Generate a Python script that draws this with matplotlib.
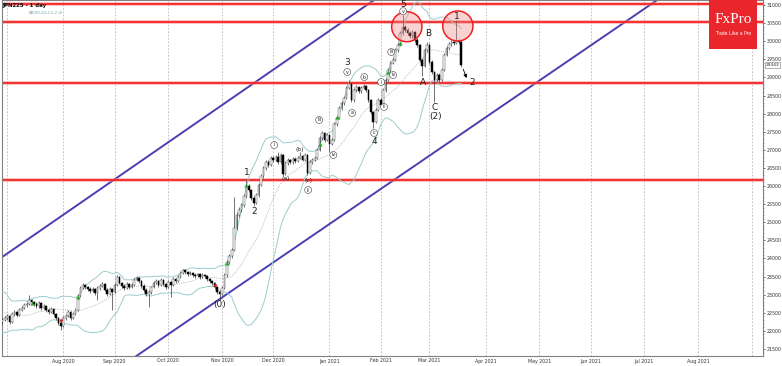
import numpy as np
import pandas as pd
import matplotlib
matplotlib.use('Agg')
import matplotlib.pyplot as plt
from matplotlib.patches import Ellipse, Rectangle
import matplotlib.transforms as mtransforms

# JPN225 daily bars from 29 Jun 2020
start_date = '2020-06-29'

opens = [
    22250, 22300, 22355, 22410, 22245, 22465, 22520, 22440, 22575, 22630,
    22715, 22740, 22850, 22795, 22740, 22685, 22770, 22630, 22685, 22575,
    22520, 22605, 22465, 22355, 22215, 22135, 22355, 22410, 22520, 22355,
    22465, 22575, 22965, 23185, 23265, 23210, 23155, 23100, 23155, 23045,
    23185, 23240, 23295, 23130, 23020, 23155, 23075, 23265, 23485, 23320,
    23240, 23185, 23295, 23210, 23265, 23405, 23460, 23375, 23240, 23130,
    23020, 23075, 23210, 23320, 23375, 23265, 23405, 23295, 23210, 23350,
    23265, 23430, 23375, 23485, 23600, 23680, 23625, 23570, 23600, 23545,
    23515, 23570, 23485, 23545, 23515, 23430, 23375, 23320, 23210, 23075,
    23020, 23185, 23545, 23900, 24065, 24235, 24840, 25200, 25340, 25475,
    25725, 26000, 25890, 25670, 25530, 25750, 26030, 26275, 26500, 26665,
    26580, 26775, 26720, 26800, 26665, 26855, 26330, 26635, 26720, 26665,
    26745, 26690, 26775, 26830, 26720, 26855, 26360, 26665, 26720, 26775,
    26995, 27325, 27465, 27270, 27410, 27160, 27270, 27710, 27880, 28155,
    28295, 28430, 28710, 28820, 28375, 28650, 28735, 28625, 28710, 28765,
    28650, 28375, 28045, 27770, 28100, 28375, 28240, 28650, 28930, 29205,
    29400, 29480, 29755, 29895, 30225, 30390, 30310, 30225, 30145, 30255,
    30035, 29895, 29480, 29315, 29755, 29895, 29425, 29150, 28930, 29065,
    28930, 29205, 29620, 29810, 29925, 29980, 29950, 30005, 29980,
]
highs = [
    22360, 22400, 22470, 22450, 22510, 22580, 22560, 22620, 22690, 22760,
    22810, 22990, 22890, 22830, 22790, 22820, 22800, 22740, 22720, 22620,
    22660, 22640, 22500, 22390, 22250, 22400, 22460, 22570, 22560, 22510,
    22620, 23010, 23240, 23320, 23300, 23250, 23200, 23200, 23190, 23230,
    23290, 23350, 23330, 23170, 23200, 23190, 23310, 23540, 23510, 23360,
    23280, 23340, 23330, 23310, 23450, 23520, 23490, 23410, 23280, 23170,
    23120, 23250, 23370, 23420, 23410, 23450, 23440, 23330, 23400, 23390,
    23480, 23470, 23530, 23650, 23710, 23700, 23660, 23640, 23630, 23590,
    23610, 23600, 23590, 23580, 23550, 23460, 23410, 23350, 23250, 23120,
    23230, 23590, 23950, 24120, 24290, 25700, 25280, 25420, 25540, 25780,
    26165, 26060, 25930, 25720, 25800, 26080, 26330, 26560, 26720, 26720,
    26830, 26820, 26860, 26940, 26900, 26880, 26680, 26770, 26760, 26800,
    26790, 26820, 26940, 26870, 26900, 26880, 26710, 26770, 26830, 27050,
    27380, 27530, 27500, 27460, 27440, 27320, 27760, 27940, 28210, 28350,
    28490, 28770, 28930, 28850, 28700, 28790, 28770, 28760, 28820, 28800,
    28690, 28410, 28080, 28150, 28430, 28420, 28700, 28980, 29260, 29460,
    29540, 29810, 29950, 30280, 30725, 30450, 30370, 30280, 30310, 30290,
    30080, 29930, 29530, 29810, 29980, 29940, 29470, 29190, 29120, 29110,
    29260, 29670, 29860, 29980, 30030, 30040, 30590, 30060, 30020,
]
lows = [
    22200, 22260, 22310, 22190, 22220, 22420, 22390, 22410, 22540, 22590,
    22670, 22700, 22740, 22680, 22630, 22640, 22580, 22590, 22520, 22460,
    22480, 22420, 22300, 22160, 22020, 22100, 22300, 22370, 22310, 22320,
    22430, 22540, 22930, 23150, 23160, 23110, 23050, 23060, 23000, 22850,
    23140, 23200, 23090, 22970, 22990, 22575, 23040, 23230, 23280, 23190,
    23130, 23150, 23160, 23170, 23230, 23370, 23330, 23190, 23080, 22970,
    22660, 23030, 23170, 23280, 23220, 23230, 23250, 23160, 23170, 22935,
    23230, 23330, 23340, 23450, 23560, 23580, 23520, 23530, 23500, 23470,
    23480, 23440, 23450, 23470, 23390, 23330, 23270, 23160, 23020, 22850,
    22980, 23150, 23500, 23850, 24010, 24200, 24790, 25150, 25280, 25430,
    25680, 25830, 25610, 25450, 25490, 25710, 25990, 26230, 26450, 26520,
    26540, 26670, 26680, 26620, 26620, 26280, 26300, 26590, 26610, 26620,
    26640, 26650, 26740, 26680, 26690, 26300, 26330, 26620, 26680, 26740,
    26960, 27280, 27220, 27230, 26950, 27120, 27240, 27670, 27840, 28110,
    28250, 28390, 28670, 28320, 28330, 28600, 28570, 28580, 28670, 28600,
    28320, 27990, 27600, 27730, 28060, 28190, 28200, 28610, 28890, 29160,
    29360, 29440, 29710, 29860, 30180, 30250, 30170, 30090, 30100, 29980,
    29840, 29420, 29040, 29280, 29700, 29370, 29100, 28320, 28880, 28870,
    28890, 29170, 29580, 29770, 29880, 29900, 29910, 29930, 29300,
]
closes = [
    22300, 22355, 22410, 22245, 22465, 22520, 22440, 22575, 22630, 22715,
    22740, 22850, 22795, 22740, 22685, 22770, 22630, 22685, 22575, 22520,
    22605, 22465, 22355, 22215, 22135, 22355, 22410, 22520, 22355, 22465,
    22575, 22965, 23185, 23265, 23210, 23155, 23100, 23155, 23045, 23185,
    23240, 23295, 23130, 23020, 23155, 23075, 23265, 23485, 23320, 23240,
    23185, 23295, 23210, 23265, 23405, 23460, 23375, 23240, 23130, 23020,
    23075, 23210, 23320, 23375, 23265, 23405, 23295, 23210, 23350, 23265,
    23430, 23375, 23485, 23600, 23680, 23625, 23570, 23600, 23545, 23515,
    23570, 23485, 23545, 23515, 23430, 23375, 23320, 23210, 23075, 23020,
    23185, 23545, 23900, 24065, 24235, 24840, 25200, 25340, 25475, 25725,
    26000, 25890, 25670, 25530, 25750, 26030, 26275, 26500, 26665, 26580,
    26775, 26720, 26800, 26665, 26855, 26330, 26635, 26720, 26665, 26745,
    26690, 26775, 26830, 26720, 26855, 26360, 26665, 26720, 26775, 26995,
    27325, 27465, 27270, 27410, 27160, 27270, 27710, 27880, 28155, 28295,
    28430, 28710, 28820, 28375, 28650, 28735, 28625, 28710, 28765, 28650,
    28375, 28045, 27770, 28100, 28375, 28240, 28650, 28930, 29205, 29400,
    29480, 29755, 29895, 30225, 30390, 30310, 30225, 30145, 30255, 30035,
    29895, 29480, 29315, 29755, 29895, 29425, 29150, 28930, 29065, 28930,
    29205, 29620, 29810, 29925, 29980, 29950, 30005, 29980, 29343,
]
# June 2020 closes, only used to warm up the bands
history_closes = [22600, 22950, 23100, 22850, 22500, 22450, 22300, 22700, 22550, 22900,
                  22750, 22450, 22200, 22100, 22400, 22600, 22250, 22300, 22150]

last_price = 29343
levels = [31030, 30540, 28850, 26165]
upper_channel = [(0, 24040), (150, 31030)]
lower_channel = [(89.7, 22907), (163.4, 26304)]
highlight_centers = [(165.7, 30400), (186.6, 30420)]

wave_labels = [("(0)", 88.9, 22714), ("1", 100.3, 26387), ("2", 103.2, 25283),
               ("3", 141.3, 29398), ("4", 152.3, 27216), ("5", 164.2, 31020),
               ("A", 172.3, 28846), ("B", 174.5, 30199), ("C", 177.3, 28155),
               ("(2)", 177.3, 27907), ("1", 186.3, 30680), ("2", 192.6, 28846)]
minor_labels = [("i", 111.4, 27133), ("ii", 125.3, 25890), ("iii", 129.8, 27824),
                ("iv", 135.6, 26857), ("v", 141.3, 29149), ("a", 143.3, 28017),
                ("b", 148.3, 29011), ("c", 152.3, 27465), ("i", 155.2, 28873),
                ("ii", 156.4, 28183), ("iii", 159.3, 29702), ("iv", 160.1, 29067),
                ("v", 164.2, 30830)]
sub_labels = [("(a)", 115.9, 26194), ("(b)", 122.0, 26995), ("(c)", 125.3, 26166)]
green_marks = [(12, 22769), (31, 22935), (92, 23874), (100, 26028),
               (130, 27161), (137, 27907), (158, 29149), (163, 29950)]
red_marks = [(24, 22272), (87, 23239)]

y_ticks = list(range(21500, 31001, 500))

assert len(opens) == len(highs) == len(lows) == len(closes)

n = len(closes)
idx = np.arange(n)
o = np.array(opens)
h = np.array(highs)
l = np.array(lows)
c = np.array(closes)

# bollinger 20 / 2.0
full = pd.Series(history_closes + closes)
mid = full.rolling(20).mean().to_numpy()[len(history_closes):]
sd = full.rolling(20).std(ddof=0).to_numpy()[len(history_closes):]
bb_up = mid + 2 * sd
bb_lo = mid - 2 * sd

dates = pd.bdate_range(start_date, periods=313)
month_idx = [i for i in range(1, len(dates)) if dates[i].month != dates[i - 1].month]
month_lab = [dates[i].strftime('%b %Y') if 10 < i < 300 else '' for i in month_idx]

fig = plt.figure(figsize=(7.82, 3.66), dpi=100)
ax = fig.add_axes([1.5 / 782, 10 / 366, 761.5 / 782, 356 / 366])
ax.set_xlim(-0.3, 311.6)
ax.set_ylim(21305, 31138)

for x in month_idx:
    ax.axvline(x, color='#b8b8b8', lw=0.6, ls=(0, (2, 2)), zorder=0)

# channel
ax.axline(upper_channel[0], upper_channel[1], color='#4a3fb0', lw=1.4, zorder=2)
ax.axline(lower_channel[0], lower_channel[1], color='#4a3fb0', lw=1.4, zorder=2)

for lv in levels:
    ax.axhline(lv, color='#ff8080', lw=2.6, alpha=0.6, zorder=2)
    ax.axhline(lv, color='#ee1c1c', lw=1.2, zorder=2)

# bands
ax.plot(idx, bb_up, color='#9ccccc', lw=0.7, zorder=3)
ax.plot(idx, bb_lo, color='#9ccccc', lw=0.7, zorder=3)
ax.plot(idx, mid, color='#a8a8a8', lw=0.5, ls=(0, (1.5, 1.5)), zorder=3)

# candles
ax.vlines(idx, l, h, color='#3a3a3a', lw=0.5, zorder=4)
up = c >= o
ax.bar(idx[up], (c - o)[up], bottom=o[up], width=0.7, color='white',
       edgecolor='#505050', linewidth=0.35, zorder=5)
ax.bar(idx[~up], (o - c)[~up], bottom=c[~up], width=0.7, color='black',
       edgecolor='black', linewidth=0.35, zorder=5)

gx, gy = zip(*green_marks)
ax.scatter(gx, gy, marker='^', s=9, color='#22aa22', zorder=6, linewidths=0)
rx, ry = zip(*red_marks)
ax.scatter(rx, ry, marker='v', s=9, color='#cc2020', zorder=6, linewidths=0)

for cx, cy in highlight_centers:
    ax.add_patch(Ellipse((cx, cy), 12.4, 830, facecolor='#f08080', alpha=0.35,
                         edgecolor='none', zorder=6))
    ax.add_patch(Ellipse((cx, cy), 12.4, 830, facecolor='none',
                         edgecolor='#ee2020', lw=1.1, zorder=7))

for txt, x, y in wave_labels:
    ax.text(x, y, txt, fontsize=6.5, ha='center', va='center', color='#202020', zorder=8)
for txt, x, y in minor_labels:
    ax.text(x, y, txt, fontsize=3.4, ha='center', va='center', color='#202020', zorder=8,
            bbox=dict(boxstyle='circle,pad=0.2', fc='white', ec='#404040', lw=0.4))
for txt, x, y in sub_labels:
    ax.text(x, y, txt, fontsize=4.3, ha='center', va='center', color='#202020', zorder=8)

ax.annotate('', xy=(190.6, 28910), xytext=(188.4, 29300),
            arrowprops=dict(arrowstyle='-|>', color='black', lw=0.6,
                            mutation_scale=5), zorder=8)

# axes styling
for s in ax.spines.values():
    s.set_color('#808080')
    s.set_linewidth(0.8)
ax.yaxis.tick_right()
ax.set_yticks(y_ticks)
ax.set_yticklabels([str(v) for v in y_ticks])
ax.set_yticks(list(range(21400, 31100, 100)), minor=True)
ax.tick_params(axis='y', which='major', labelsize=3.4, length=1.5, width=0.5,
               colors='#333333', pad=0.8)
ax.tick_params(axis='y', which='minor', length=0.8, width=0.4, colors='#666666')
ax.set_xticks(month_idx)
ax.set_xticklabels(month_lab)
ax.tick_params(axis='x', labelsize=3.4, length=0, colors='#333333', pad=1.8)

trans = mtransforms.blended_transform_factory(ax.transAxes, ax.transData)
ax.text(1.003, last_price, str(last_price), transform=trans, fontsize=3.2,
        va='center', ha='left', color='#222222', zorder=9, clip_on=False,
        bbox=dict(boxstyle='square,pad=0.12', fc='white', ec='#777777', lw=0.4))

ax.text(0.001, 0.992, 'JPN225 - 1 day', transform=ax.transAxes, fontsize=3.9,
        va='top', ha='left', color='#111111', fontweight='bold')
ax.text(0.035, 0.963, 'BB(20,20,2.0,2.0)', transform=ax.transAxes, fontsize=2.8,
        va='center', ha='left', color='#6aa6a6')

# logo
ax.add_patch(Rectangle((0.929, 0.862), 0.063, 0.14, transform=ax.transAxes,
                       facecolor='#e8262b', edgecolor='none', zorder=10, clip_on=False))
ax.text(0.9605, 0.944, 'FxPro', transform=ax.transAxes, fontsize=11, color='white',
        family='Liberation Serif', ha='center', va='center', zorder=11)
ax.text(0.9605, 0.905, 'Trade Like a Pro', transform=ax.transAxes, fontsize=3.3,
        color='white', ha='center', va='center', zorder=11)

fig.savefig('out.png', dpi=100)
